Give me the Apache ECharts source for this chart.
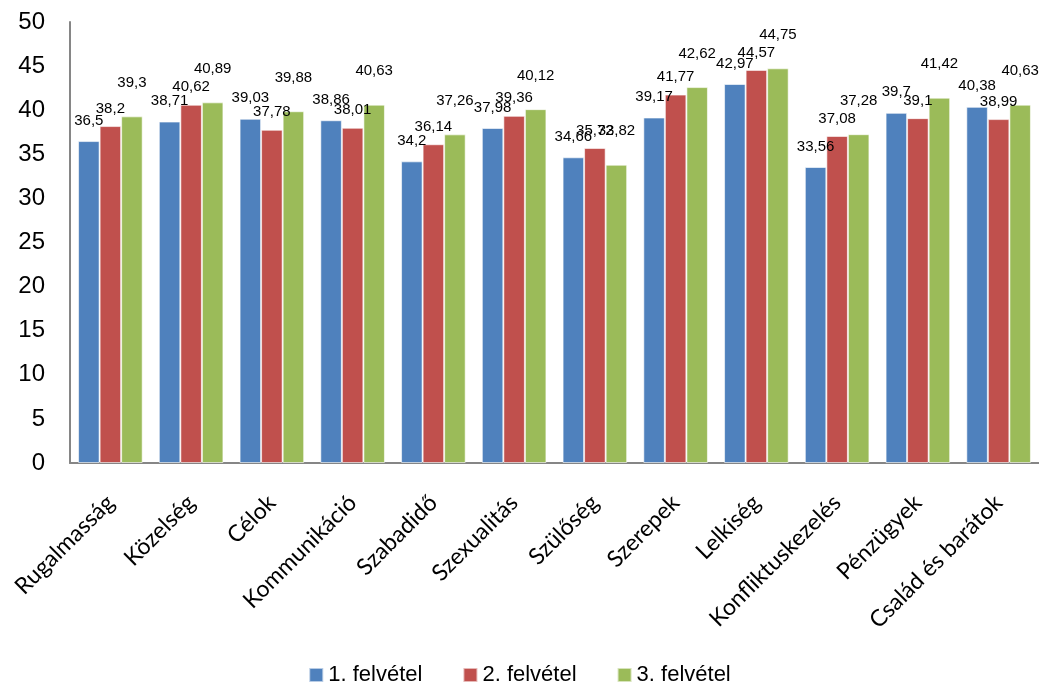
<!DOCTYPE html>
<html>
<head>
<meta charset="utf-8">
<script src="https://cdn.jsdelivr.net/npm/echarts@6/dist/echarts.min.js"></script>
<style>
html,body{margin:0;padding:0;background:#fff;}
#chart{width:1039px;height:693px;}
</style>
</head>
<body>
<div id="chart"></div>
<script>
const categories = ["Rugalmasság","Közelség","Célok","Kommunikáció","Szabadidő","Szexualitás","Szülőség","Szerepek","Lelkiség","Konfliktuskezelés","Pénzügyek","Család és barátok"];
const seriesNames = ["1. felvétel","2. felvétel","3. felvétel"];
const felvetel1 = [36.5,38.71,39.03,38.86,34.2,37.98,34.66,39.17,42.97,33.56,39.7,40.38];
const felvetel2 = [38.2,40.62,37.78,38.01,36.14,39.36,35.72,41.77,44.57,37.08,39.1,38.99];
const felvetel3 = [39.3,40.89,39.88,40.63,37.26,40.12,33.82,42.62,44.75,37.28,41.42,40.63];
const yTicks = [0,5,10,15,20,25,30,35,40,45,50];

const colors = ["#4F81BD","#C0504D","#9BBB59"];
const labelDist = [13, 10, 26];
const allData = [felvetel1, felvetel2, felvetel3];

const chart = echarts.init(document.getElementById('chart'));
chart.setOption({
  animation:false,
  color: colors,
  grid:{left:70, right:0, top:22, bottom:230, containLabel:false},
  legend:{
    bottom:2, left:'center', itemWidth:14, itemHeight:14, itemGap:40,
    icon:'rect',
    textStyle:{fontFamily:'Liberation Sans, Arial', fontSize:22, color:'#000'},
    data: seriesNames
  },
  xAxis:{
    type:'category', data:categories,
    axisLine:{lineStyle:{color:'#868686', width:2}},
    axisTick:{show:false},
    axisLabel:{rotate:45, interval:0, margin:36, fontFamily:'Lato, "Open Sans"', fontSize:23, color:'#000'}
  },
  yAxis:{
    type:'value', min:yTicks[0], max:yTicks[yTicks.length-1], interval:5,
    axisLine:{show:true, lineStyle:{color:'#868686', width:2}},
    axisTick:{show:false},
    splitLine:{show:false},
    axisLabel:{margin:25, fontFamily:'Liberation Sans, Arial', fontSize:24, color:'#000'}
  },
  series: seriesNames.map((n,i)=>({
    name:n, type:'bar', data: allData[i],
    barGap:'0%', barCategoryGap:'20%',
    itemStyle:{borderColor:'rgba(255,255,255,0.6)', borderWidth:1},
    label:{show:true, position:'top', distance:labelDist[i],
      fontFamily:'Liberation Sans, Arial', fontSize:15, color:'#000',
      formatter:p=>String(p.value).replace('.',',')}
  }))
});
</script>
</body>
</html>
